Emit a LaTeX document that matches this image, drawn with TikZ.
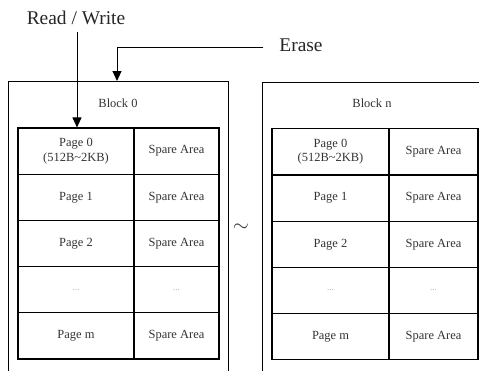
\documentclass[tikz,border=0pt]{standalone}
\usepackage{fontspec}
\setmainfont{Liberation Serif}
\usetikzlibrary{arrows.meta}
\begin{document}
\begin{tikzpicture}[x=1bp,y=-1bp,
  cellA/.style={draw, line width=1.1bp, minimum height=46.2bp, inner sep=0pt, align=center, font=\fontsize{12.5}{13}\selectfont, text=black!80},
  blockbox/.style={draw, line width=0.8bp, anchor=north west, inner sep=0pt},
  arr/.style={line width=0.9bp, -{Triangle[width=9bp,length=10bp]}},
  big/.style={font=\fontsize{19.5}{20}\selectfont, text=black!85},
  dotsA/.style={cellA, text=black!35, font=\fontsize{9}{10}\selectfont}
]
\useasboundingbox (0,0) rectangle (479,370);
\clip (0,0) rectangle (479,370);
% blocks
\node[blockbox, minimum width=220bp, minimum height=310bp] (b0) at (8,81) {};
\node[blockbox, minimum width=240bp, minimum height=310bp] (bn) at (262,82) {};
\node[font=\fontsize{12.5}{13}\selectfont, text=black!80] (b0t) at (118,103) {Block 0};
\node[font=\fontsize{12.5}{13}\selectfont, text=black!80] (bnt) at (372,103) {Block n};
% left table
\foreach \y/\n in {151.1/0,197.3/1,243.5/2,289.7/3,335.9/4}{
  \node[cellA, minimum width=116bp] (L\n a) at (76,\y) {};
  \node[cellA, minimum width=85bp] (L\n b) at (176.5,\y) {};
  \node[cellA, minimum width=117bp] (R\n a) at (330.5,\y+0.8) {};
  \node[cellA, minimum width=89bp] (R\n b) at (433.5,\y+0.8) {};
}
\foreach \s in {L,R}{
  \node[font=\fontsize{12.5}{14.5}\selectfont, align=center, text=black!80] at (\s0a) {Page 0\\(512B\textasciitilde 2KB)};
  \node[font=\fontsize{12.5}{13}\selectfont, text=black!80] at (\s0b) {Spare Area};
  \node[font=\fontsize{12.5}{13}\selectfont, text=black!80] at (\s1a) {Page 1};
  \node[font=\fontsize{12.5}{13}\selectfont, text=black!80] at (\s1b) {Spare Area};
  \node[font=\fontsize{12.5}{13}\selectfont, text=black!80] at (\s2a) {Page 2};
  \node[font=\fontsize{12.5}{13}\selectfont, text=black!80] at (\s2b) {Spare Area};
  \node[font=\fontsize{9}{10}\selectfont, text=black!35] at (\s3a) {...};
  \node[font=\fontsize{9}{10}\selectfont, text=black!35] at (\s3b) {...};
  \node[font=\fontsize{12.5}{13}\selectfont, text=black!80] at (\s4a) {Page m};
  \node[font=\fontsize{12.5}{13}\selectfont, text=black!80] at (\s4b) {Spare Area};
}
% tilde
\node[font=\fontsize{20}{20}\selectfont, text=black!80] (tl) at (241,228) {$\sim$};
% labels
\node[big] (rw) at (76,18) {Read / Write};
\node[big] (er) at (301,45) {Erase};
\coordinate (rwtop) at (77,32);
\coordinate (etop) at (263,47);
\coordinate (eend) at (117,81);
\draw[arr] (rwtop) -- (rwtop |- L0a.north);
\draw[arr] (etop) -| (eend);
\end{tikzpicture}
\end{document}
